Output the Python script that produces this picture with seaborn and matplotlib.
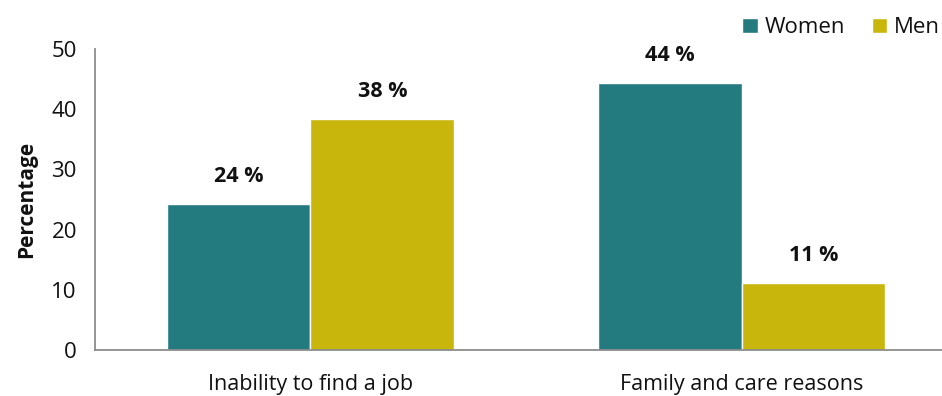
import pandas as pd
import matplotlib.pyplot as plt
import seaborn as sns

# Chart data
categories = ['Inability to find a job', 'Family and care reasons']
groups = ['Women', 'Men']
women = [24.3, 44.4]
men = [38.4, 11.1]
value_labels = ['24 %', '44 %', '38 %', '11 %']

df = pd.DataFrame({
    'reason': categories * 2,
    'sex': ['Women'] * 2 + ['Men'] * 2,
    'value': women + men,
})

sns.set_style('white')
plt.rcParams['font.family'] = ['Open Sans', 'DejaVu Sans']
plt.rcParams['text.color'] = '#111111'
plt.rcParams['xtick.labelcolor'] = '#111111'
plt.rcParams['ytick.labelcolor'] = '#111111'

colors = {'Women': '#237A7F', 'Men': '#C8B60C'}
grey = '#8C8C8C'

fig = plt.figure(figsize=(9.42, 3.96), dpi=100)
ax = fig.add_axes([0.1008, 0.1162, 0.8992, 0.7601])

sns.barplot(data=df, x='reason', y='value', hue='sex', hue_order=groups,
            palette=colors, width=0.667, saturation=1, ax=ax, legend=True)

# value labels above bars
for cont, labels in zip(ax.containers, [value_labels[:2], value_labels[2:]]):
    ax.bar_label(cont, labels=labels, padding=12, fontsize=15.5,
                 fontweight='bold', color='#111111')

ax.set_ylim(0, 50)
ax.set_xlim(-0.5, 1.465)
ax.set_yticks(range(0, 51, 10))
ax.set_ylabel('Percentage', fontsize=15, fontweight='bold', labelpad=10,
              color='#111111')
ax.set_xlabel('')

# category ticks without marks, separators as minor ticks
ax.tick_params(axis='x', which='major', length=0, pad=17, labelsize=15.5)
ax.set_xticks([-0.5, 0.5], minor=True)
ax.tick_params(axis='x', which='minor', length=8, width=1.3, color=grey,
               direction='out')
ax.tick_params(axis='y', length=7, width=1.3, color=grey, direction='out',
               labelsize=16, pad=6)

for side in ['top', 'right']:
    ax.spines[side].set_visible(False)
for side in ['left', 'bottom']:
    ax.spines[side].set_color(grey)
    ax.spines[side].set_linewidth(1.3)

leg = ax.legend(loc='upper right', bbox_to_anchor=(1.008, 1.135), ncol=2,
                frameon=False, fontsize=16, handlelength=0.7, handleheight=0.7,
                handletextpad=0.3, columnspacing=1.2, borderaxespad=0)

plt.savefig('out.png', dpi=100)
